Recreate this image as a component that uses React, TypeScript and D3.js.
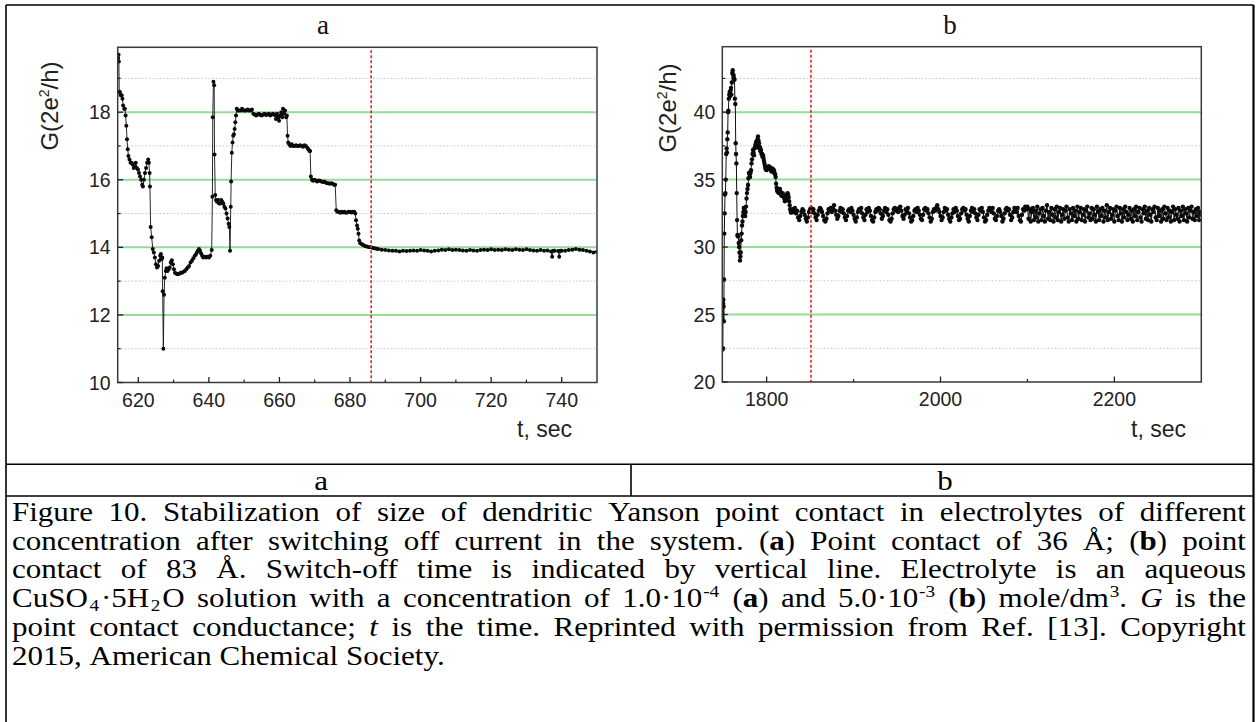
import React, { useMemo } from 'react';
import * as d3 from 'd3';

// ---------------- DATA ----------------
// Panel a : t (sec) and G (2e^2/h)
const aTime = [
  614.3, 614.4, 614.5, 614.6, 614.8, 615.0, 615.3, 615.5, 615.7, 616.0, 616.2, 616.4, 616.6, 616.8, 617.0,
  617.2, 617.5, 617.8, 618.1, 618.4, 618.7, 619.0, 619.3, 619.6, 619.9, 620.2, 620.5, 620.8, 621.1, 621.3,
  621.6, 621.9, 622.2, 622.5, 622.8, 623.0, 623.2, 623.3, 623.5, 623.8, 624.1, 624.4, 624.7, 625.0, 625.3,
  625.6, 625.9, 626.2, 626.4, 626.6, 626.8, 626.9, 627.1, 627.3, 627.5, 627.8, 628.0, 628.3, 628.6, 628.9,
  629.2, 629.5, 629.8, 630.1, 630.4, 630.8, 631.2, 631.6, 632.0, 632.4, 632.8, 633.2, 633.6, 634.0, 634.4,
  634.8, 635.2, 635.6, 636.0, 636.3, 636.6, 636.9, 637.2, 637.5, 637.8, 638.1, 638.4, 638.8, 639.2, 639.6,
  640.0, 640.4, 640.8, 641.0, 641.1, 641.3, 641.5, 641.6, 641.8, 642.0, 642.3, 642.6, 642.9, 643.2, 643.5,
  643.8, 644.1, 644.4, 644.7, 645.0, 645.3, 645.6, 645.8, 646.0, 646.2, 646.3, 646.5, 646.7, 646.9, 647.1,
  647.3, 647.5, 647.7, 647.9, 648.2, 648.6, 649.0, 649.4, 649.8, 650.2, 650.6, 651.0, 651.4, 651.8, 652.2,
  652.6, 653.0, 653.4, 653.8, 654.2, 654.6, 655.0, 655.4, 655.8, 656.2, 656.6, 657.0, 657.4, 657.8, 658.2,
  658.6, 659.0, 659.3, 659.6, 659.9, 660.2, 660.5, 660.8, 661.0, 661.3, 661.6, 661.9, 662.1, 662.3, 662.5,
  662.8, 663.1, 663.5, 663.9, 664.3, 664.7, 665.1, 665.5, 665.9, 666.3, 666.7, 667.1, 667.5, 667.9, 668.2,
  668.5, 668.7, 668.9, 669.2, 669.5, 669.9, 670.3, 670.7, 671.1, 671.5, 671.9, 672.3, 672.7, 673.1, 673.5,
  673.9, 674.3, 674.7, 675.1, 675.5, 675.8, 676.1, 676.4, 676.8, 677.2, 677.6, 678.0, 678.4, 678.8, 679.2,
  679.6, 680.0, 680.4, 680.8, 681.2, 681.5, 681.7, 682.0, 682.2, 682.4, 682.6, 682.9, 683.3, 683.7, 684.1,
  684.5, 685.0, 685.5, 686.0, 686.5, 687.0, 687.5, 688.0, 689, 690, 691, 692, 693, 694, 695,
  696, 697, 698, 699, 700, 701, 702, 703, 704, 705, 706, 707, 708, 709, 710,
  711, 712, 713, 714, 715, 716, 717, 718, 719, 720, 721, 722, 723, 724, 725,
  726, 727, 728, 729, 730, 731, 732, 733, 734, 735, 736, 737, 737.3, 737.6, 738,
  739, 739.3, 739.6, 740, 741, 742, 743, 744, 745, 746, 747, 748, 749, 750,
];
const aG = [
  19.6, 19.7, 19.5, 18.6, 18.6, 18.5, 18.5, 18.4, 18.2, 18.1, 18.1, 17.9, 17.6, 17.2, 16.9,
  16.7, 16.6, 16.5, 16.5, 16.45, 16.35, 16.4, 16.5, 16.35, 16.3, 16.2, 16.1, 16.0, 15.85, 15.8,
  16.0, 16.2, 16.35, 16.5, 16.6, 16.5, 16.2, 15.8, 14.6, 14.3, 13.95, 13.85, 13.7, 13.5, 13.4,
  13.45, 13.6, 13.75, 13.8, 13.65, 13.7, 12.7, 11.0, 12.6, 13.1, 13.3, 13.38, 13.3, 13.35, 13.4,
  13.55, 13.62, 13.5, 13.35, 13.25, 13.22, 13.2, 13.22, 13.25, 13.25, 13.28, 13.3, 13.35, 13.4, 13.45,
  13.55, 13.6, 13.68, 13.75, 13.78, 13.85, 13.9, 13.95, 13.9, 13.82, 13.75, 13.7, 13.72, 13.7, 13.72,
  13.7, 13.75, 13.92, 15.5, 17.85, 18.9, 18.8, 16.75, 15.55, 15.4, 15.35, 15.4, 15.3, 15.3, 15.4,
  15.35, 15.3, 15.2, 15.15, 15.0, 14.85, 14.7, 14.6, 13.9, 15.2, 15.95, 16.8, 17.1, 17.3, 17.35,
  17.5, 17.7, 17.9, 18.1, 18.05, 18.05, 18.05, 18.1, 18.05, 18.05, 18.05, 18.08, 18.05, 18.05, 18.08,
  17.95, 17.93, 17.9, 17.93, 17.95, 17.92, 17.9, 17.93, 17.95, 17.92, 17.93, 17.95, 17.9, 17.93, 17.95,
  17.92, 17.8, 17.95, 17.85, 17.75, 17.9, 18.0, 17.85, 18.1, 17.95, 18.05, 17.85, 17.9, 17.3, 17.1,
  17.05, 17.0, 17.05, 17.0, 17.0, 17.02, 17.0, 17.0, 17.02, 17.0, 16.98, 17.02, 17.0, 16.95, 16.9,
  16.85, 16.85, 16.1, 16.0, 15.97, 16.0, 15.98, 15.95, 15.98, 15.97, 15.95, 15.93, 15.95, 15.92, 15.9,
  15.9, 15.88, 15.9, 15.88, 15.85, 15.85, 15.1, 15.05, 15.05, 15.02, 15.05, 15.03, 15.05, 15.02, 15.03,
  15.05, 15.05, 15.03, 15.05, 15.05, 15.0, 14.8, 14.65, 14.55, 14.4, 14.2, 14.12, 14.1, 14.07, 14.05,
  14.03, 14.02, 14.0, 14.0, 13.98, 13.97, 13.96, 13.95, 13.93, 13.92, 13.91, 13.9, 13.9, 13.88, 13.9,
  13.89, 13.9, 13.91, 13.9, 13.92, 13.91, 13.9, 13.88, 13.9, 13.91, 13.93, 13.92, 13.94, 13.92, 13.93,
  13.92, 13.91, 13.9, 13.92, 13.91, 13.9, 13.92, 13.93, 13.92, 13.94, 13.92, 13.93, 13.92, 13.94, 13.93,
  13.92, 13.94, 13.93, 13.92, 13.94, 13.92, 13.91, 13.9, 13.92, 13.9, 13.91, 13.88, 13.72, 13.9, 13.9,
  13.89, 13.72, 13.9, 13.9, 13.9, 13.92, 13.93, 13.95, 13.93, 13.92, 13.9, 13.88, 13.85, 13.87,
];

// Panel b : transient part (explicit t, G)
const bTime = [
  1749.3, 1749.6, 1749.9, 1750.2, 1750.5, 1750.8, 1751.0, 1751.3, 1751.7, 1752.1, 1752.6, 1753.0, 1753.5, 1754.0, 1754.4,
  1754.8, 1755.2, 1755.6, 1756.0, 1756.5, 1757.0, 1757.5, 1758.0, 1758.5, 1759.0, 1759.5, 1760.0, 1760.5, 1761.0, 1761.5,
  1762.0, 1762.5, 1763.0, 1763.5, 1764.0, 1764.4, 1764.8, 1765.2, 1765.6, 1766.0, 1766.4, 1766.9, 1767.4, 1767.9, 1768.3,
  1768.8, 1769.3, 1769.8, 1770.2, 1770.7, 1771.2, 1771.7, 1772.2, 1772.7, 1773.2, 1773.7, 1774.2, 1774.8, 1775.3, 1775.8,
  1776.3, 1776.9, 1777.4, 1778.0, 1778.6, 1779.1, 1779.7, 1780.3, 1780.9, 1781.5, 1782.0, 1782.6, 1783.2, 1783.8, 1784.3,
  1784.9, 1785.5, 1786.0, 1786.6, 1787.2, 1787.8, 1788.3, 1788.9, 1789.5, 1790.1, 1790.6, 1791.2, 1791.8, 1792.4, 1792.9,
  1793.5, 1794.1, 1794.7, 1795.2, 1795.8, 1796.4, 1796.9, 1797.5, 1798.1, 1798.6, 1799.2, 1799.8, 1800.4, 1801.0, 1801.6,
  1802.3, 1803.0, 1803.6, 1804.3, 1805.0, 1805.6, 1806.3, 1807.0, 1807.7, 1808.4, 1809.0, 1809.7, 1810.3, 1810.9, 1811.5,
  1812.1, 1812.7, 1813.4, 1814.0, 1814.7, 1815.3, 1815.9, 1816.6, 1817.2, 1817.9, 1818.5, 1819.2, 1819.8, 1820.4, 1821.0,
  1821.7, 1822.3, 1822.9, 1823.5, 1824.1, 1824.7, 1825.3, 1825.9, 1826.5, 1827.1, 1827.7, 1828.3, 1829.0,
];
const bG = [
  22.4, 22.5, 25.8, 26.1, 25.6, 24.5, 27.6, 31.0, 32.5, 33.9, 34.0, 35.0, 36.9, 37.3, 37.0,
  38.0, 38.5, 40.0, 40.1, 41.0, 41.3, 41.5, 41.2, 41.6, 41.8, 41.3, 42.2, 42.9, 43.1, 42.8,
  42.7, 42.5, 42.4, 41.0, 40.6, 37.7, 36.9, 36.2, 34.0, 32.0, 30.9, 30.8, 30.8, 30.3, 30.0,
  29.6, 29.0, 29.3, 29.6, 30.5, 31.0, 31.6, 31.9, 32.3, 32.6, 32.9, 32.9, 32.7, 32.3, 32.6,
  33.0, 33.6, 34.0, 34.3, 34.6, 35.1, 35.5, 35.4, 35.2, 35.5, 35.7, 36.2, 36.5, 36.9, 37.2,
  37.0, 36.8, 37.3, 37.4, 37.6, 37.8, 37.4, 37.6, 38.0, 38.2, 37.9, 37.7, 37.3, 37.4, 37.1,
  37.2, 36.9, 36.9, 36.7, 36.8, 36.6, 36.4, 36.2, 36.0, 35.8, 35.9, 35.7, 35.8, 35.9, 35.8,
  36.0, 35.9, 35.8, 35.9, 35.7, 35.6, 35.8, 35.8, 35.6, 35.7, 35.5, 35.4, 35.2, 34.7, 34.4,
  34.2, 34.1, 34.3, 34.0, 34.0, 34.3, 34.1, 33.9, 33.8, 33.9, 34.0, 33.8, 33.7, 33.6, 33.4,
  33.5, 33.6, 33.7, 33.9, 34.0, 33.9, 33.7, 33.4, 33.1, 32.8, 32.6, 32.55, 32.7,
];
// Panel b : stabilized part, sampled every bBandStep seconds from bBandStart
const bBandStart = 1830;
const bBandStep = 1.25;
const bBandG = [
  32.8, 32.6, 32.9, 32.5, 32.7, 32.2, 32.0, 32.3, 32.6, 32.8, 32.7, 32.4,
  32.1, 31.9, 32.2, 32.6, 32.8, 32.9, 32.6, 32.8, 32.5, 32.2, 32.0, 32.4,
  32.7, 32.9, 32.8, 32.6, 32.3, 32.0, 31.9, 32.1, 32.5, 32.8, 32.7, 32.9,
  32.6, 32.8, 33.1, 32.7, 32.4, 32.1, 32.3, 32.7, 32.9, 32.6, 32.8, 32.5,
  32.2, 32.0, 32.3, 32.7, 32.8, 32.6, 32.9, 32.7, 32.4, 32.1, 31.9, 32.2,
  32.6, 32.8, 32.7, 32.9, 32.5, 32.2, 32.0, 32.4, 32.8, 32.6, 32.9, 32.7,
  32.3, 32.0, 31.9, 32.2, 32.6, 32.8, 32.7, 32.9, 32.8, 32.5, 32.1, 32.3,
  32.7, 32.9, 32.6, 32.8, 32.4, 32.0, 31.9, 32.1, 32.5, 32.8, 32.9, 32.7,
  32.8, 32.6, 32.9, 33.0, 32.7, 32.3, 32.1, 32.4, 32.8, 32.6, 32.9, 32.5,
  32.2, 31.9, 32.0, 32.3, 32.7, 32.8, 32.6, 32.9, 32.7, 32.4, 32.1, 32.0,
  32.4, 32.8, 32.9, 32.7, 32.8, 32.5, 32.2, 31.9, 32.1, 32.6, 32.8, 32.7,
  32.9, 33.1, 32.8, 32.6, 32.3, 32.0, 32.2, 32.6, 32.9, 32.7, 32.8, 32.4,
  32.1, 31.9, 32.2, 32.5, 32.8, 32.6, 32.9, 32.7, 32.3, 32.0, 32.1, 32.5,
  32.8, 32.9, 32.7, 32.8, 32.4, 32.1, 31.9, 32.3, 32.7, 32.9, 32.6, 32.8,
  32.5, 32.2, 32.0, 32.4, 32.8, 32.7, 32.9, 32.6, 32.2, 31.9, 32.0, 32.4,
  32.7, 32.9, 32.8, 32.6, 32.9, 32.5, 32.1, 32.0, 32.3, 32.7, 32.8, 32.6,
  32.3, 31.9, 32.1, 32.5, 32.8, 32.9, 32.7, 32.8, 32.4, 32.0, 32.2, 32.6,
  32.9, 32.8, 32.6, 32.9, 32.3, 32.0, 31.9, 32.4, 32.8, 32.7, 33.0, 32.8,
  33.0, 32.1, 32.8, 31.9, 32.6, 32.9, 32.0, 32.7, 32.2, 33.0, 31.9, 32.5,
  32.8, 32.0, 32.9, 32.3, 31.9, 32.7, 33.1, 32.1, 32.6, 32.0, 32.9, 32.4,
  31.9, 32.8, 32.2, 33.0, 32.0, 32.6, 32.9, 31.9, 32.4, 32.8, 32.1, 32.7,
  33.0, 32.2, 31.9, 32.8, 32.5, 32.0, 32.9, 32.3, 32.7, 31.9, 33.0, 32.1,
  32.6, 32.9, 32.0, 32.4, 32.8, 31.9, 32.7, 33.0, 32.2, 32.5, 32.0, 32.9,
  32.1, 32.8, 32.4, 31.9, 33.0, 32.6, 32.0, 32.8, 32.3, 32.9, 31.9, 32.7,
  32.2, 33.1, 32.0, 32.6, 32.9, 32.1, 32.4, 32.8, 31.9, 32.7, 33.0, 32.3,
  32.0, 32.9, 32.5, 31.9, 32.8, 32.2, 33.0, 32.6, 32.0, 32.4, 32.9, 32.1,
  32.7, 31.9, 32.8, 32.3, 33.0, 32.0, 32.6, 32.9, 32.2, 31.9, 32.8, 32.5,
  33.0, 32.1, 32.7, 32.0, 32.9, 32.4, 31.9, 32.8, 32.6, 33.0, 32.2, 32.0,
  32.9, 32.3, 32.7, 31.9, 32.8, 32.1, 33.0, 32.5, 32.0, 32.9, 32.2, 32.7,
  31.9, 32.6, 33.0, 32.0, 32.8, 32.4, 32.1, 32.9, 31.9, 32.7, 32.3, 33.0,
  32.0, 32.8, 32.5, 31.9, 32.9, 32.2, 32.7, 33.0, 32.1, 32.6, 32.0, 32.8,
  32.3, 32.9, 32.0, 32.6, 32.4,
];

const aXTicks = [620, 640, 660, 680, 700, 720, 740];
const aXMinor = [630, 650, 670, 690, 710, 730];
const aYTicks = [10, 12, 14, 16, 18];
const aYMinor = [11, 13, 15, 17, 19];
const bXTicks = [1800, 2000, 2200];
const bXMinor = [1900, 2100];
const bYTicks = [20, 25, 30, 35, 40];
const bYMinor = [22.5, 27.5, 32.5, 37.5, 42.5];
const aSwitchOff = 686;
const bSwitchOff = 1851;

type Seg = { t: string; b?: boolean; i?: boolean; sup?: boolean; sub?: boolean };
const captionLines: Seg[][] = [
  [{ t: 'Figure 10. Stabilization of size of dendritic Yanson point contact in electrolytes of different' }],
  [
    { t: 'concentration after switching off current in the system. (' }, { t: 'a', b: true },
    { t: ') Point contact of 36 Å; (' }, { t: 'b', b: true }, { t: ') point' },
  ],
  [{ t: 'contact of 83 Å. Switch-off time is indicated by vertical line. Electrolyte is an aqueous' }],
  [
    { t: 'CuSO' }, { t: '4', sub: true }, { t: '·5H' }, { t: '2', sub: true },
    { t: 'O solution with a concentration of 1.0·10' }, { t: '-4', sup: true }, { t: ' (' }, { t: 'a', b: true },
    { t: ') and 5.0·10' }, { t: '-3', sup: true }, { t: ' (' }, { t: 'b', b: true }, { t: ') mole/dm' },
    { t: '3', sup: true }, { t: '. ' }, { t: 'G', i: true }, { t: ' is the' },
  ],
  [
    { t: 'point contact conductance; ' }, { t: 't', i: true },
    { t: ' is the time. Reprinted with permission from Ref. [13]. Copyright' },
  ],
  [{ t: '2015, American Chemical Society.' }],
];

// ---------------- STYLE ----------------
const SANS = '"Liberation Sans", Arial, sans-serif';
const SERIF = '"Liberation Serif", "Times New Roman", serif';
const CAP_SIZE = 26.5;
const CAP_WIDTH_EM = 31;
const SMALL = 0.62;
const SCRIPT_PAD = 1.5;

type PanelSpec = {
  id: string;
  title: string;
  titleX: number;
  left: number; right: number; top: number; bottom: number;
  xDomain: [number, number]; yDomain: [number, number];
  pts: [number, number][];
  xTicks: number[]; xMinor: number[]; yTicks: number[]; yMinor: number[];
  switchOff: number;
  yLabelX: number; yLabelY: number; xLabelRight: number;
  r: number; lw: number;
};

function Panel({ p }: { p: PanelSpec }) {
  const x = d3.scaleLinear().domain(p.xDomain).range([p.left, p.right]);
  const y = d3.scaleLinear().domain(p.yDomain).range([p.bottom, p.top]);
  const line = d3.line<[number, number]>().x((d) => x(d[0])).y((d) => y(d[1]));
  const clipId = `clip-${p.id}`;
  return (
    <g>
      <defs>
        <clipPath id={clipId}>
          <rect x={p.left} y={p.top} width={p.right - p.left} height={p.bottom - p.top} />
        </clipPath>
      </defs>
      <text x={p.titleX} y={34} textAnchor="middle" fontFamily={SERIF} fontSize={27} fill="#111">{p.title}</text>
      {p.yMinor.map((v) => (
        <line key={'m' + v} x1={p.left} x2={p.right} y1={y(v)} y2={y(v)} stroke="#c4c4c4" strokeWidth={1} strokeDasharray="1.5 2" />
      ))}
      {p.yTicks.slice(1).map((v) => (
        <line key={'g' + v} x1={p.left} x2={p.right} y1={y(v)} y2={y(v)} stroke="#95de95" strokeWidth={2} />
      ))}
      <g clipPath={`url(#${clipId})`}>
        <path d={line(p.pts) || ''} fill="none" stroke="#111" strokeWidth={p.lw} />
        {p.pts.map((d, i) => (
          <circle key={i} cx={x(d[0])} cy={y(d[1])} r={p.r} fill="#0a0a0a" />
        ))}
      </g>
      <line x1={x(p.switchOff)} x2={x(p.switchOff)} y1={p.top + 3} y2={p.bottom} stroke="#d42a2a" strokeWidth={1.6} strokeDasharray="3 2" />
      <rect x={p.left} y={p.top} width={p.right - p.left} height={p.bottom - p.top} fill="none" stroke="#3a3a3a" strokeWidth={1.5} />
      {p.xTicks.map((v) => (
        <g key={'xt' + v}>
          <line x1={x(v)} x2={x(v)} y1={p.bottom} y2={p.bottom - 5.5} stroke="#222" strokeWidth={1.3} />
          <text x={x(v)} y={p.bottom + 24} textAnchor="middle" fontFamily={SANS} fontSize={19.5} fill="#222">{v}</text>
        </g>
      ))}
      {p.xMinor.map((v) => (
        <line key={'xm' + v} x1={x(v)} x2={x(v)} y1={p.bottom} y2={p.bottom - 3} stroke="#222" strokeWidth={1.2} />
      ))}
      {p.yTicks.map((v) => (
        <g key={'yt' + v}>
          <line x1={p.left} x2={p.left + 5.5} y1={y(v)} y2={y(v)} stroke="#222" strokeWidth={1.3} />
          <text x={p.left - 7} y={y(v)} dy="0.36em" textAnchor="end" fontFamily={SANS} fontSize={19.5} fill="#222">{v}</text>
        </g>
      ))}
      {p.yMinor.map((v) => (
        <line key={'ym' + v} x1={p.left} x2={p.left + 3} y1={y(v)} y2={y(v)} stroke="#222" strokeWidth={1.2} />
      ))}
      <text transform={`translate(${p.yLabelX},${p.yLabelY}) rotate(-90)`} textAnchor="middle" fontFamily={SANS} fontSize={24} fill="#222">
        G(2e<tspan dy={-9} fontSize={14}>2</tspan><tspan dy={9}>/h)</tspan>
      </text>
      <text x={p.xLabelRight} y={437} textAnchor="end" fontFamily={SANS} fontSize={23} fill="#222">t, sec</text>
    </g>
  );
}

function segFont(s: Seg) {
  const size = s.sup || s.sub ? CAP_SIZE * SMALL : CAP_SIZE;
  return `${s.i ? 'italic ' : ''}${s.b ? 'bold ' : ''}${size}px ${SERIF}`;
}

function Caption() {
  const layout = useMemo(() => {
    const ctx = document.createElement('canvas').getContext('2d')!;
    const measure = (s: Seg) => {
      ctx.font = segFont(s);
      return ctx.measureText(s.t).width + (s.sub ? 2 * SCRIPT_PAD : s.sup ? SCRIPT_PAD : 0);
    };
    const leftX = 12;
    const rightX = 1246;
    const lines = captionLines.map((segs) => {
      const words: Seg[][] = [[]];
      segs.forEach((s) => {
        s.t.split(' ').forEach((part, pi) => {
          if (pi > 0) words.push([]);
          if (part.length) words[words.length - 1].push({ ...s, t: part });
        });
      });
      const ws = words.filter((w) => w.length);
      const widths = ws.map((w) => w.reduce((a, s) => a + measure(s), 0));
      const total = widths.reduce((a, b) => a + b, 0);
      return { ws, widths, total };
    });
    const space = CAP_SIZE * 0.25;
    const natural = lines.slice(0, -1).map((l) => l.total + space * (l.ws.length - 1));
    const sx = Math.min(CAP_WIDTH_EM / CAP_SIZE, (rightX - leftX) / Math.max(...natural));
    const words: { x: number; y: number; segs: Seg[]; key: string }[] = [];
    lines.forEach((l, li) => {
      const justify = li < lines.length - 1;
      const gap = justify ? (rightX - leftX - l.total * sx) / (l.ws.length - 1) : space * sx;
      const baseY = 521 + li * 28.7;
      let cx = leftX;
      l.ws.forEach((w, wi) => {
        words.push({ x: cx, y: baseY, segs: w, key: `${li}-${wi}` });
        cx += l.widths[wi] * sx + gap;
      });
    });
    return { words, sx };
  }, []);
  const shift = (s: Seg) => (s.sup ? -10 : s.sub ? 4 : 0);
  return (
    <g>
      {layout.words.map((w) => {
        let prev = 0;
        let prevScript = false;
        return (
          <text key={w.key} transform={`translate(${w.x},${w.y}) scale(${layout.sx},1)`} fontFamily={SERIF} fontSize={CAP_SIZE} fill="#000">
            {w.segs.map((s, si) => {
              const off = shift(s);
              const dy = off - prev;
              prev = off;
              const dx = s.sub ? SCRIPT_PAD : prevScript && !s.sup ? SCRIPT_PAD : s.sup ? SCRIPT_PAD * 0.5 : 0;
              prevScript = !!s.sub;
              return (
                <tspan key={si} dy={dy} dx={dx} fontSize={s.sup || s.sub ? CAP_SIZE * SMALL : CAP_SIZE}
                  fontWeight={s.b ? 'bold' : 'normal'} fontStyle={s.i ? 'italic' : 'normal'}>
                  {s.t}
                </tspan>
              );
            })}
          </text>
        );
      })}
      <text transform={`translate(321,490) scale(${layout.sx},1)`} textAnchor="middle" fontFamily={SERIF} fontSize={CAP_SIZE} fill="#000">a</text>
      <text transform={`translate(945,490) scale(${layout.sx},1)`} textAnchor="middle" fontFamily={SERIF} fontSize={CAP_SIZE} fill="#000">b</text>
    </g>
  );
}

export default function App() {
  const aPts: [number, number][] = aTime.map((t, i) => [t, aG[i]]);
  const bPts: [number, number][] = [
    ...bTime.map((t, i) => [t, bG[i]] as [number, number]),
    ...bBandG.map((g, i) => [bBandStart + i * bBandStep, g] as [number, number]),
  ];
  const panelA: PanelSpec = {
    id: 'a', title: 'a', titleX: 323,
    left: 117.7, right: 597, top: 47.3, bottom: 382.5,
    xDomain: [614.16, 750.0], yDomain: [10, 19.92], pts: aPts,
    xTicks: aXTicks, xMinor: aXMinor, yTicks: aYTicks, yMinor: aYMinor,
    switchOff: aSwitchOff, yLabelX: 58, yLabelY: 106, xLabelRight: 572,
    r: 2.0, lw: 0.9,
  };
  const panelB: PanelSpec = {
    id: 'b', title: 'b', titleX: 950,
    left: 722.3, right: 1201.3, top: 46.7, bottom: 382,
    xDomain: [1749, 2300], yDomain: [20, 44.85], pts: bPts,
    xTicks: bXTicks, xMinor: bXMinor, yTicks: bYTicks, yMinor: bYMinor,
    switchOff: bSwitchOff, yLabelX: 676, yLabelY: 108, xLabelRight: 1186,
    r: 2.2, lw: 1.0,
  };
  return (
    <svg width={1259} height={722} style={{ position: 'absolute', left: 0, top: 0, background: '#fff' }}>
      <rect x={0} y={0} width={1259} height={722} fill="#fff" />
      <Panel p={panelA} />
      <Panel p={panelB} />
      <g stroke="#000" strokeWidth={1.6} fill="none">
        <line x1={6} x2={1253.5} y1={5} y2={5} />
        <line x1={6} x2={6} y1={5} y2={722} />
        <line x1={1253.5} x2={1253.5} y1={5} y2={722} strokeWidth={2.2} />
        <line x1={6} x2={1253.5} y1={464.3} y2={464.3} />
        <line x1={6} x2={1253.5} y1={496} y2={496} />
        <line x1={631} x2={631} y1={464.3} y2={496} />
      </g>
      <Caption />
    </svg>
  );
}
